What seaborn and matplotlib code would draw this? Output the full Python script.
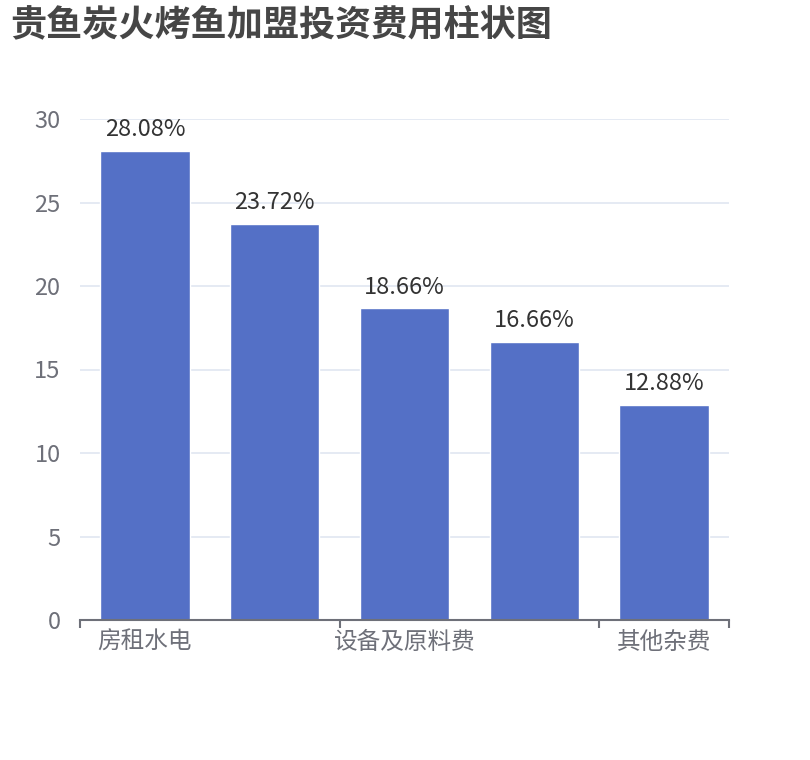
import pandas as pd
import matplotlib.pyplot as plt
import seaborn as sb

# data (percent of total investment)
categories = ['房租水电', '类目2', '设备及原料费', '类目4', '其他杂费']
shares = [28.08, 23.72, 18.66, 16.66, 12.88]
label_interval = 2  # echarts hides every other category label
y_ticks = [0, 5, 10, 15, 20, 25, 30]

df = pd.DataFrame({'category': categories, 'share': shares})

sb.set_theme(style='white')
plt.rcParams['font.family'] = ['Noto Sans CJK SC', 'DejaVu Sans']

fig = plt.figure(figsize=(8.1, 7.6), dpi=100)
ax = fig.add_axes([80 / 810, 140 / 760, 649 / 810, 501 / 760])

sb.barplot(data=df, x='category', y='share', color='#5470C6', saturation=1,
           width=0.69, ax=ax, zorder=3)

# value labels above bars
for i, v in enumerate(df['share']):
    ax.annotate(f'{v:.2f}%', (i, v), xytext=(0, 7), textcoords='offset points',
                ha='center', va='bottom', fontsize=17, color='#333333')

ax.set_xlim(-0.5, len(categories) - 0.5)
ax.set_ylim(0, 30)
ax.set_yticks(y_ticks)
ax.set_yticklabels([str(t) for t in y_ticks], fontsize=17, color='#6E7079')
ax.tick_params(axis='y', length=0, pad=14)
ax.grid(axis='y', color='#E0E6F1', linewidth=1.2, zorder=0)

# boundary ticks + centered labels, every other category
ax.set_xticks([i - 0.5 for i in range(0, len(categories), label_interval)] + [len(categories) - 0.5])
ax.set_xticklabels([])
ax.tick_params(axis='x', which='major', bottom=True, length=6, width=1.5,
               color='#6E7079', direction='out')
ax.set_xticks(range(0, len(categories), label_interval), minor=True)
ax.set_xticklabels([categories[i] for i in range(0, len(categories), label_interval)],
                   minor=True, fontsize=17, color='#6E7079')
ax.tick_params(axis='x', which='minor', bottom=True, length=0, pad=8)
ax.set_xlabel('')
ax.set_ylabel('')

for side in ['top', 'right', 'left']:
    ax.spines[side].set_visible(False)
ax.spines['bottom'].set_color('#6E7079')
ax.spines['bottom'].set_linewidth(1.5)
ax.spines['bottom'].set_zorder(4)

fig.text(10 / 810, 1 - 26 / 760, '贵鱼炭火烤鱼加盟投资费用柱状图', fontsize=26,
         fontweight='bold', color='#464646', ha='left', va='center')

fig.savefig('out.png', dpi=100)
